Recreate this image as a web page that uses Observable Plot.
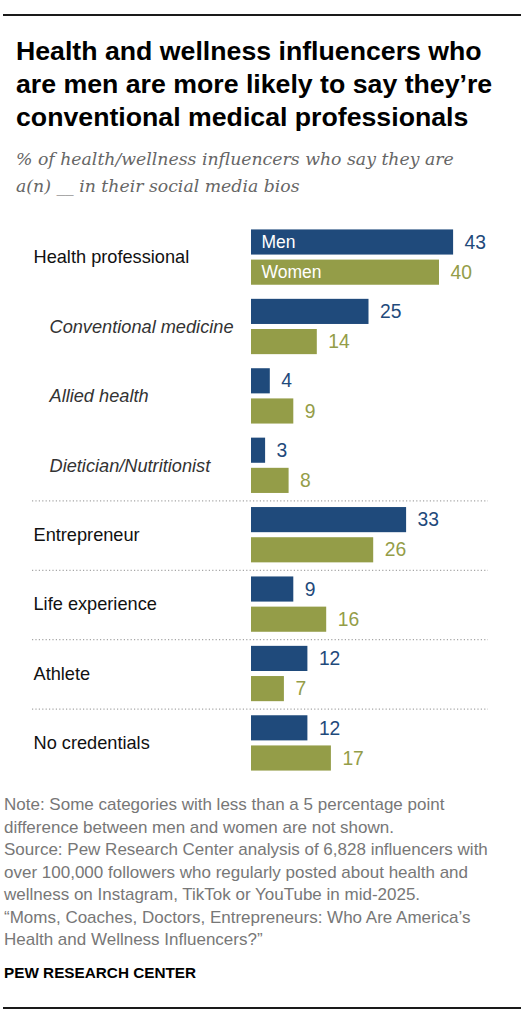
<!DOCTYPE html>
<html><head><meta charset="utf-8">
<script src="https://cdn.jsdelivr.net/npm/d3@7"></script>
<script src="https://cdn.jsdelivr.net/npm/@observablehq/plot@0.6"></script>
<style>
body{margin:0;background:#fff;}
#wrap{position:relative;width:526px;height:1023px;font-family:"Liberation Sans",Arial,sans-serif;overflow:hidden;}
.rule{position:absolute;left:3px;width:518px;height:2px;background:#1a1a1a;}
#title{position:absolute;left:16px;top:35px;font-weight:bold;font-size:26.7px;line-height:33px;white-space:nowrap;color:#000;}
#subtitle{position:absolute;left:16px;top:146px;font-family:"DejaVu Serif",Georgia,serif;font-style:italic;font-size:17.3px;line-height:27px;color:#666;white-space:nowrap;}
#chart{position:absolute;left:0;top:222px;}
#notes{position:absolute;left:4px;top:794px;font-size:17px;line-height:22.5px;color:#777;white-space:nowrap;}
#credit{position:absolute;left:4px;top:964px;font-size:15.3px;line-height:18px;font-weight:bold;color:#000;white-space:nowrap;}
</style>
</head><body>
<div id="wrap">
  <div class="rule" style="top:14px"></div>
  <div id="title">Health and wellness influencers who<br>are men are more likely to say they’re<br>conventional medical professionals</div>
  <div id="subtitle">% of health/wellness influencers who say they are<br>a(n) __ in their social media bios</div>
  <div id="chart"></div>
  <div id="notes">Note: Some categories with less than a 5 percentage point<br>difference between men and women are not shown.<br>Source: Pew Research Center analysis of 6,828 influencers with<br>over 100,000 followers who regularly posted about health and<br>wellness on Instagram, TikTok or YouTube in mid-2025.<br>“Moms, Coaches, Doctors, Entrepreneurs: Who Are America’s<br>Health and Wellness Influencers?”</div>
  <div id="credit">PEW RESEARCH CENTER</div>
  <div class="rule" style="top:1007px"></div>
</div>
<script>
const categories = ["Health professional","Conventional medicine","Allied health","Dietician/Nutritionist","Entrepreneur","Life experience","Athlete","No credentials"];
const subcategories = ["Conventional medicine","Allied health","Dietician/Nutritionist"];
const separated = ["Entrepreneur","Life experience","Athlete","No credentials"];
const genders = ["Men","Women"];
const menValues = [43,25,4,3,33,9,12,12];
const womenValues = [40,14,9,8,26,16,7,17];
const colors = ["#1f4a7b","#949d48"];

const rows = [];
categories.forEach((c,i)=>{
  rows.push({cat:c, gender:"Men", value:menValues[i]});
  rows.push({cat:c, gender:"Women", value:womenValues[i]});
});
const mainCats = categories.filter(c=>!subcategories.includes(c));

const chart = Plot.plot({
  width:526, height:556,
  marginLeft:251, marginRight:40, marginTop:0, marginBottom:0,
  style:{fontFamily:"'Liberation Sans', Arial, sans-serif", background:"transparent"},
  x:{domain:[0,50], axis:null},
  y:{domain:genders, axis:null, paddingInner:0.167, paddingOuter:0, round:false},
  fy:{domain:categories, axis:null, paddingInner:0.203, paddingOuter:0.107, round:false},
  color:{domain:genders, range:colors},
  marks:[
    Plot.ruleY(separated, {fy:d=>d, y:()=>"Men", dy:-19.2, insetLeft:-219, insetRight:-2, stroke:"#a6a6a6", strokeWidth:1.2, strokeDasharray:"1.2,2.2"}),
    Plot.barX(rows, {fy:"cat", y:"gender", x:"value", fill:"gender"}),
    Plot.text(rows, {fy:"cat", y:"gender", x:"value", text:d=>String(d.value), fill:"gender", dx:11, textAnchor:"start", fontSize:19.3}),
    Plot.text(rows.filter(d=>d.cat===categories[0]), {fy:"cat", y:"gender", text:"gender", frameAnchor:"left", dx:10, textAnchor:"start", fill:"white", fontSize:17.5}),
    Plot.text(mainCats, {fy:d=>d, text:d=>d, frameAnchor:"left", dx:-218, textAnchor:"start", fontSize:18.2, fill:"#111"}),
    Plot.text(subcategories, {fy:d=>d, text:d=>d, frameAnchor:"left", dx:-202, textAnchor:"start", fontSize:18.2, fontStyle:"italic", fill:"#333"})
  ]
});
document.getElementById("chart").appendChild(chart);
</script>
</body></html>
